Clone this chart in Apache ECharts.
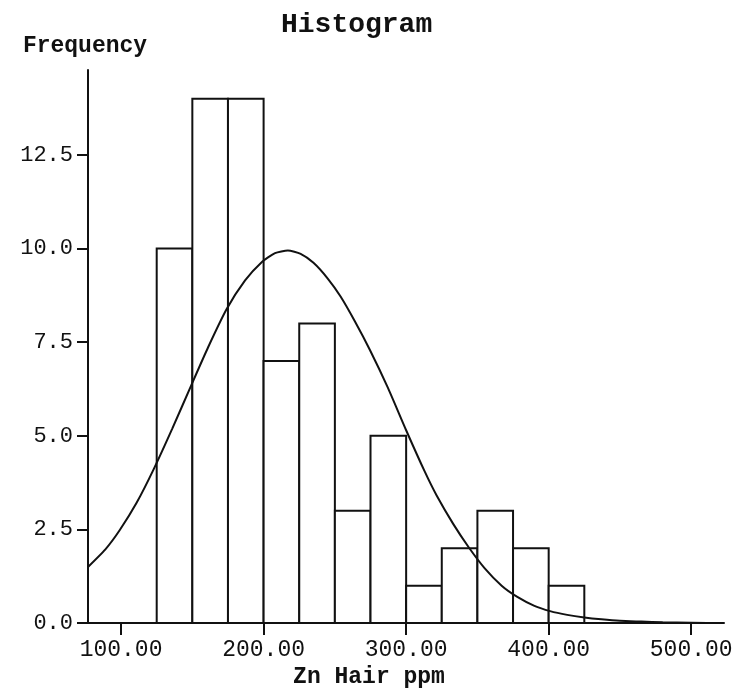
<!DOCTYPE html>
<html>
<head>
<meta charset="utf-8">
<script src="https://cdn.jsdelivr.net/npm/echarts@6/dist/echarts.min.js"></script>
<style>
html,body{margin:0;padding:0;background:#fff;}
#chart{width:743px;height:694px;}
</style>
</head>
<body>
<div id="chart"></div>
<script>
// ---- data ----
const binStarts   = [125, 150, 175, 200, 225, 250, 275, 300, 325, 350, 375, 400];
const binEnds     = [150, 175, 200, 225, 250, 275, 300, 325, 350, 375, 400, 425];
const frequencies = [10, 14, 14, 7, 8, 3, 5, 1, 2, 3, 2, 1];

// fitted normal curve
const curveX = [76.8, 89, 99, 111, 123, 136, 149, 161, 174, 187, 199, 208, 217, 226, 235, 245, 254, 264, 274.5, 287, 300, 313, 321.5, 333, 344, 355, 367, 378, 390, 401, 413, 425, 437, 450, 465, 480, 500, 523];
const curveY = [1.5, 1.97, 2.48, 3.22, 4.12, 5.2, 6.33, 7.36, 8.38, 9.15, 9.65, 9.88, 9.95, 9.86, 9.62, 9.2, 8.72, 8.06, 7.3, 6.3, 5.15, 4.05, 3.4, 2.65, 2.02, 1.47, 1.0, 0.7, 0.46, 0.32, 0.22, 0.15, 0.1, 0.06, 0.04, 0.02, 0.01, 0.0];

const xTicks = [100, 200, 300, 400, 500];
const yTicks = [0, 2.5, 5, 7.5, 10, 12.5];

const titleText = 'Histogram';
const xName = 'Zn Hair ppm';
const yName = 'Frequency';

// ---- chart ----
const chart = echarts.init(document.getElementById('chart'), null, {renderer: 'canvas'});
const barData = binStarts.map((s, i) => [s, binEnds[i], frequencies[i]]);
const curveData = curveX.map((x, i) => [x, curveY[i]]);
const FONT = '"Liberation Mono", "DejaVu Sans Mono", monospace';
const INK = '#111';

chart.setOption({
  backgroundColor: '#fff',
  animation: false,
  title: {
    text: titleText,
    left: 276,
    top: 6,
    textStyle: {fontFamily: FONT, fontWeight: 'bold', fontSize: 28, color: INK}
  },
  grid: {left: 88, right: 19, top: 70, bottom: 63, containLabel: false},
  xAxis: {
    type: 'value',
    min: 76.8,
    max: 523,
    name: xName,
    nameLocation: 'middle',
    nameGap: 37,
    nameTextStyle: {fontFamily: FONT, fontWeight: 'bold', fontSize: 23, color: INK, padding: [0, 74, 0, 0]},
    axisLine: {show: true, onZero: false, lineStyle: {color: INK, width: 2}},
    axisTick: {show: true, inside: false, length: 12, lineStyle: {color: INK, width: 2}, customValues: xTicks},
    axisLabel: {
      fontFamily: FONT, fontSize: 23, color: INK, margin: 15,
      customValues: xTicks,
      formatter: v => v.toFixed(2)
    },
    splitLine: {show: false}
  },
  yAxis: {
    type: 'value',
    min: 0,
    max: 14.77,
    name: yName,
    nameLocation: 'end',
    nameGap: 12,
    nameTextStyle: {fontFamily: FONT, fontWeight: 'bold', fontSize: 23, color: INK, align: 'center', verticalAlign: 'bottom', padding: [0, 6, 0, 0]},
    axisLine: {show: true, lineStyle: {color: INK, width: 2}},
    axisTick: {show: true, inside: false, length: 11, lineStyle: {color: INK, width: 2}, customValues: yTicks},
    axisLabel: {
      fontFamily: FONT, fontSize: 22, color: INK, margin: 15,
      customValues: yTicks,
      formatter: v => v.toFixed(1)
    },
    splitLine: {show: false}
  },
  series: [
    {
      type: 'custom',
      name: 'bins',
      data: barData,
      encode: {x: [0, 1], y: 2},
      z: 2,
      renderItem: function (params, api) {
        const p0 = api.coord([api.value(0), api.value(2)]);
        const p1 = api.coord([api.value(1), 0]);
        return {
          type: 'rect',
          shape: {x: p0[0], y: p0[1], width: p1[0] - p0[0], height: p1[1] - p0[1]},
          style: {fill: '#fff', stroke: INK, lineWidth: 2}
        };
      }
    },
    {
      type: 'line',
      name: 'normal',
      data: curveData,
      smooth: 0.2,
      showSymbol: false,
      symbol: 'none',
      z: 3,
      lineStyle: {color: INK, width: 2}
    }
  ]
});
</script>
</body>
</html>
